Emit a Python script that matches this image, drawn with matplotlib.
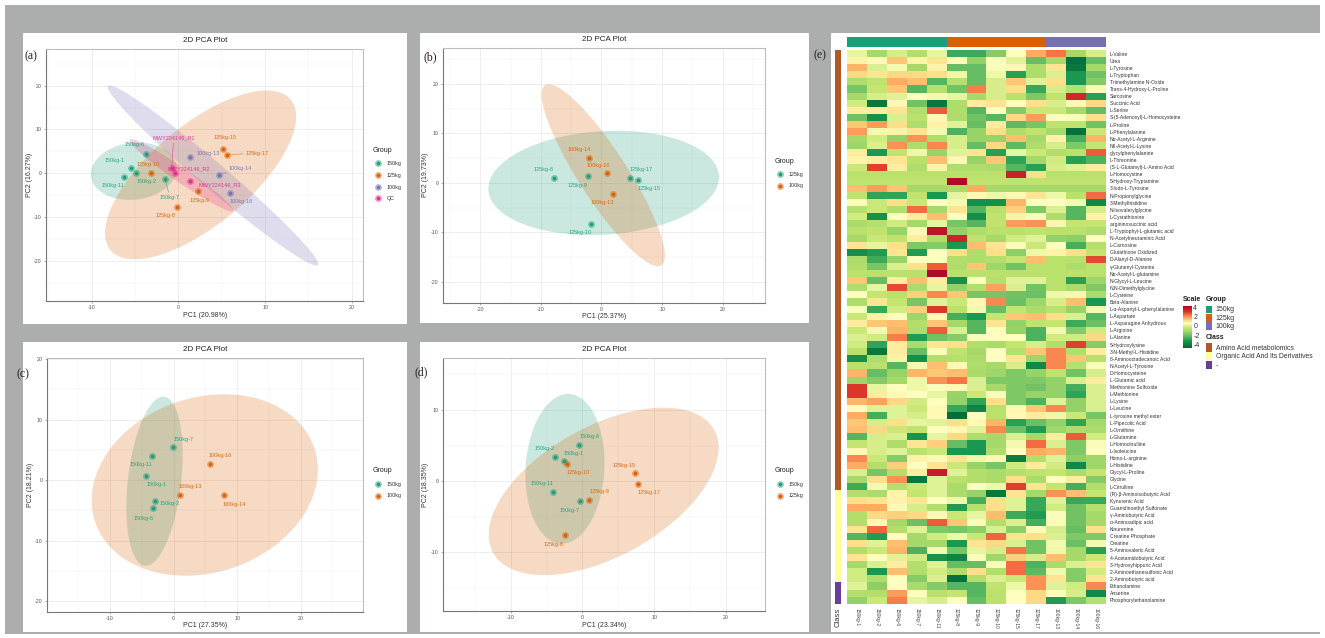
import numpy as np
import matplotlib
matplotlib.use("Agg")
import matplotlib.pyplot as plt
from matplotlib.colors import LinearSegmentedColormap, ListedColormap
from matplotlib.patches import Rectangle

plt.rcParams['font.family'] = ['Liberation Sans', 'DejaVu Sans']

W, H = 1325, 638
C150, C125, C100, CQC = '#1B9E77', '#D95F02', '#7570B3', '#E7298A'

# ---------- panel (a) ----------
a_150_names = ['150kg-1', '150kg-11', '150kg-2', '150kg-6', '150kg-7']
a_150_pc1 = [-5.5, -6.27, -4.92, -3.77, -1.54]
a_150_pc2 = [1.3, -0.84, 0.0, 4.5, -1.37]
a_125_names = ['125kg-10', '125kg-9', '125kg-8', '125kg-15', '125kg-17']
a_125_pc1 = [-3.15, 2.23, -0.19, 5.12, 5.62]
a_125_pc2 = [0.15, -4.04, -7.77, 5.56, 4.27]
a_100_names = ['100kg-13', '100kg-14', '100kg-16']
a_100_pc1 = [1.31, 4.65, 6.0]
a_100_pc2 = [3.66, -0.3, -4.57]
a_qc_names = ['MWY224146_R1', 'MWY224146_R2', 'MWY224146_R3']
a_qc_pc1 = [-0.77, -0.35, 1.38]
a_qc_pc2 = [1.3, 0.0, -1.83]
# label offsets (screen units, zoomed pixels / 3) and leader flags
a_150_off = [(-47, -20), (-34, 26), (33, 25), (-34, -26), (15, 55)]
a_125_off = [(-10, -24), (5, 28), (-32, 26), (8, -33), (91, -4)]
a_100_off = [(57, -12), (66, -17), (33, 26)]
a_qc_off = [(6, -89), (39, -13), (88, 10)]
a_150_lead = [0, 0, 0, 0, 1]
a_125_lead = [0, 0, 0, 0, 1]
a_100_lead = [0, 1, 0]
a_qc_lead = [1, 0, 0]
# ellipses: centre x, centre y, half-width, half-height, correlation
a_ell_150 = (-5.15, 0.46, 4.94, 6.55, 0.1)
a_ell_125 = (2.56, -0.38, 11.02, 19.28, 0.69)
a_ell_100 = (4.0, -0.53, 12.15, 20.6, -0.982)
a_ell_qc = (0.35, -0.46, 6.0, 8.27, -0.97)

# ---------- panel (b) ----------
b_125_names = ['125kg-8', '125kg-9', '125kg-17', '125kg-15', '125kg-10']
b_125_pc1 = [-7.88, -2.26, 4.74, 6.06, -1.76]
b_125_pc2 = [1.01, 1.35, 1.01, 0.54, -8.25]
b_100_names = ['100kg-14', '100kg-16', '100kg-13']
b_100_pc1 = [-2.04, 0.99, 1.82]
b_100_pc2 = [5.0, 1.96, -2.3]
b_125_off = [(-32, -24), (-32, 27), (32, -25), (32, 26), (-32, 26)]
b_100_off = [(-30, -25), (-27, -22), (-32, 26)]
b_ell_125 = (0.36, 0.0, 19.04, 10.55, 0.11)
b_ell_100 = (0.3, 1.56, 10.17, 18.4, -0.885)

# ---------- panel (c) ----------
c_150_names = ['150kg-7', '150kg-11', '150kg-1', '150kg-2', '150kg-6']
c_150_pc1 = [-0.1, -3.46, -4.3, -2.99, -3.25]
c_150_pc2 = [5.41, 4.03, 0.72, -3.37, -4.53]
c_100_names = ['100kg-16', '100kg-13', '100kg-14']
c_100_pc1 = [5.66, 1.0, 7.91]
c_100_pc2 = [2.71, -2.43, -2.49]
c_150_off = [(31, -24), (-32, 26), (32, 26), (46, 8), (-28, 34)]
c_100_off = [(32, -25), (32, -25), (32, 27)]
c_ell_150 = (-3.01, -0.17, 4.43, 13.98, 0.31)
c_ell_100 = (4.9, -0.8, 17.79, 15.0, 0.17)

# ---------- panel (d) ----------
d_150_names = ['150kg-6', '150kg-2', '150kg-1', '150kg-11', '150kg-7']
d_150_pc1 = [-0.51, -3.77, -2.6, -4.14, -0.33]
d_150_pc2 = [5.14, 3.46, 2.9, -1.45, -2.85]
d_125_names = ['125kg-10', '125kg-15', '125kg-17', '125kg-9', '125kg-8']
d_125_pc1 = [-2.19, 7.3, 7.77, 0.84, -2.47]
d_125_pc2 = [2.43, 1.12, -0.42, -2.62, -7.57]
d_150_off = [(32, -24), (-33, -25), (29, -22), (-31, -25), (-32, 26)]
d_125_off = [(33, 25), (-31, -24), (32, 26), (32, -25), (-32, 27)]
d_ell_150 = (-2.44, 1.73, 5.51, 10.51, 0.08)
d_ell_125 = (2.95, -1.43, 16.02, 11.75, 0.52)

# ---------- heatmap ----------
sample_names = ['150kg-1', '150kg-2', '150kg-6', '150kg-7', '150kg-11', '125kg-8', '125kg-9',
                '125kg-10', '125kg-15', '125kg-17', '100kg-13', '100kg-14', '100kg-16']
sample_group = [0] * 5 + [1] * 5 + [2] * 3
metabolites = [
    'L-Valine', 'Urea', 'L-Tyrosine', 'L-Tryptophan', 'Trimethylamine N-Oxide',
    'Trans-4-Hydroxy-L-Proline', 'Sarcosine', 'Succinic Acid', 'L-Serine',
    'S-(5-Adenosyl)-L-Homocysteine', 'L-Proline', 'L-Phenylalanine', 'Nα-Acetyl-L-Arginine',
    'N6-Acetyl-L-Lysine', 'glycylphenylalanine', 'L-Threonine', '(S-L-Glutamyl)-L-Amino Acid',
    'L-Homocystine', '5-Hydroxy-Tryptamine', '3-Iodo-L-Tyrosine', 'N-Propionylglycine',
    '3-Methylhistidine', 'N-Isovalerylglycine', 'L-Cystathionine', 'argininosuccinic acid',
    'L-Tryptophyl-L-glutamic acid', 'N-Acetylneuraminic Acid', 'L-Carnosine',
    'Glutathione Oxidized', 'D-Alanyl-D-Alanine', 'γ-Glutamyl-Cysteine', 'Nα-Acetyl-L-glutamine',
    'N-Glycyl-L-Leucine', 'N,N-Dimethylglycine', 'L-Cysteine', 'Beta-Alanine',
    'L-α-Aspartyl-L-phenylalanine', 'L-Aspartate', 'L-Asparagine Anhydrous', 'L-Arginine',
    'L-Alanine', '5-Hydroxylysine', '3-N-Methyl-L-Histidine', '8-Aminooctadecanoic Acid',
    'N-Acetyl-L-Tyrosine', 'D-Homocysteine', 'L-Glutamic acid', 'Methionine Sulfoxide',
    'L-Methionine', 'L-Lysine', 'L-Leucine', 'L-tyrosine methyl ester', 'L-Pipecolic Acid',
    'L-Ornithine', 'L-Glutamine', 'L-Homocitrulline', 'L-Isoleucine', 'Homo-L-arginine',
    'L-Histidine', 'Glycyl-L-Proline', 'Glycine', 'L-Citrulline', '(R)-β-Aminoisobutyric Acid',
    'Kynurenic Acid', 'Guanidinoethyl Sulfonate', 'γ-Aminobutyric Acid', 'α-Aminoadipic acid',
    'Kinurenine', 'Creatine Phosphate', 'Creatine', '5-Aminovaleric Acid',
    '4-Acetamidobutyric Acid', '3-Hydroxyhippuric Acid', '2-Aminoethanesulfonic Acid',
    '2-Aminobutyric acid', 'Ethanolamine', 'Anserine', 'Phosphorylethanolamine']
metabolite_class = [0] * 62 + [1] * 13 + [2] * 3
heat_values = [
    [0.3, -1, 0, -0.7, 0.3, -2.5, -2.5, -1.5, 0.7, 1.8, 2.4, -1, 0],
    [0.9, 0.8, 1.5, 0.9, 1.1, 0.6, -1.3, 0.6, 0.2, -2, -1, -4.2, -2],
    [1.7, 0.1, 0.5, -1, 0.9, -2, -2, 0.6, 0.8, -0.8, 1.1, -4, -1],
    [1.3, 1.1, 1.3, 1.3, 1.2, 0.4, -2, 0.4, -2.8, -0.8, 0.1, -3, -1.8],
    [-0.8, -0.4, 1.8, 1.6, -2.2, -0.6, -2, 0, 1.5, 0.2, 1.2, -3, -1.5],
    [-1.7, -0.3, 1.5, -2.2, -0.6, -1.8, 2.3, 0, 1.2, -2.6, 0, -0.6, 0.8],
    [-1, 0, 0.2, 0.7, 0.5, 0.3, -1, 0, -0.5, -1.6, -0.4, 3.4, -2.8],
    [-0.1, -4, 0.8, -1.8, -4, -0.8, 1, 1.1, 0.7, 1.2, 0, 0.8, 1.3],
    [1, 1, 1.1, -0.7, 2.7, -0.8, -2.2, 0.7, -1.5, -0.2, -0.2, -1, -2],
    [-1.8, -3.2, 0.1, -0.5, 0.8, -0.8, -1.8, -2.2, 1.3, 2, 0.7, 0.6, 1.2],
    [1.5, 2, 1.2, -0.8, 0.9, 0.2, -2, 1, -2.1, -1.7, -0.4, -0.4, -1.8],
    [2, 0.5, 0.9, 1.1, 0.5, -2.3, -1.2, 1.2, -0.8, -0.4, -1, -4.2, -0.2],
    [-1, -0.1, -1.3, 2.1, -0.8, 0, -1.2, -1.2, 1.6, -1, 0.9, -2.4, 1.7],
    [-1.1, 0.1, 2.1, -0.8, 2.2, 0, -2, 1.3, -2.1, -0.8, 0, -1.6, -0.3],
    [1, -3, -0.4, 0.4, -1.2, 0.2, 1.1, -2.8, 0.3, -0.2, -0.7, -0.5, 2.7],
    [0.9, 1, 1.1, -0.5, 1.6, 0.8, -1.2, 1.5, -2.7, -1, -0.1, -2.8, -2.3],
    [-0.2, 3, 1, -0.8, 0.9, -0.8, -0.8, -0.9, -2.2, -2.8, 0, 0.2, 1],
    [-0.5, -0.5, -0.5, -0.5, -0.5, -0.5, -0.5, -0.5, 3.6, 1.2, -0.5, -0.5, -0.5],
    [-0.4, -0.4, -0.4, -0.4, -0.4, 4.2, -0.4, -0.4, -0.4, -0.4, -0.4, -0.4, -0.4],
    [1.6, 2, 1.5, -1, -1, -0.9, 1.8, -1, -1, -1, -1, -1, -1],
    [-0.4, -2.7, -2.7, -0.4, -3, 0.3, 0.8, 0.4, 0.8, 1.1, 0.4, -0.5, 2.5],
    [0.6, -0.2, 1.2, -0.2, 0.7, 0.5, -3.2, -3.2, 1.7, 0.7, 0.7, 0.5, -3.5],
    [-0.6, -0.2, -0.7, 2.5, -1, 1.1, -2.2, -0.5, 1.4, -1.6, 0.1, -2.2, 0],
    [-0.1, -3.2, 0.7, 1, 1.6, 0.7, -3.3, -0.4, 0.4, 0.6, -0.8, -2.2, 0.9],
    [-0.9, -0.6, -0.1, -1, 0.3, -1.7, -2.2, -0.4, 2, 2.1, 0.5, -0.3, -0.3],
    [-0.5, -0.4, -1.2, 0.8, 3.9, -1.3, -0.8, -0.5, -0.5, -0.4, -0.5, -0.5, -0.8],
    [-1, -0.2, -0.4, 1, -0.8, 3.5, -0.4, -1, -0.1, 0.2, -1.3, -1.4, 0.7],
    [1.1, 0.3, 1.2, -1.6, -1.5, -3, 1.6, 1.1, 0.6, -0.2, 0.7, -2.4, -0.6],
    [-3.3, -2.9, 1.1, -2.9, 0.7, 1.2, -0.8, 1.2, -1.4, 0.4, 0.9, 1.2, -0.3],
    [-0.9, -2.5, -1.2, 0.7, 0.7, -0.7, -0.8, -0.7, -0.3, 1.6, -0.5, -0.5, 2.9],
    [-0.7, -1.7, 0.1, 1.2, 2.7, -0.8, 1.5, -1.1, -1.8, -0.5, -0.5, -0.8, -0.5],
    [-0.5, -0.5, -0.5, -0.5, 4.2, -0.5, -0.5, -0.5, -0.5, -0.5, -0.5, -0.5, -0.5],
    [1.5, -2, 1, 1.6, 1, -3.2, 0.7, -0.6, 0.2, 0.2, -0.5, -2.8, -1.1],
    [-0.8, 0.3, 2.9, -0.9, 0.3, -1.3, -0.7, 1.9, 0.1, -1.8, -0.5, -0.9, -1.6],
    [0.7, -0.3, -0.5, 1.4, 2.2, 1.5, -1.7, -1.7, -1.8, -1.9, 0.4, 0.5, -0.9],
    [-0.8, 1.1, -0.3, -1.7, 0.2, -0.2, 0.8, 2.2, -1.9, -1.1, 0, 1.6, -3],
    [0.6, -2.6, -0.1, 1.4, 3.1, -0.5, 0.5, -2, -0.3, -0.9, -0.5, -1.2, 0.5],
    [-0.2, 0.9, 0.7, -1.1, 0.8, -2.4, -3, -0.3, 1.5, 1.6, 1.2, 0.1, -2.2],
    [1, 1.5, 1.6, -0.7, 1.5, -1, -2.2, 1.1, -1.3, -0.4, -0.3, -2.5, -1.9],
    [-0.2, 0.5, 1.7, -0.8, 2.7, 0.1, -2.2, 0.7, -1.2, -2.3, 0.5, -1.5, -0.1],
    [0.1, -0.1, 2.3, -2.9, -1.8, -1.5, 0.6, 0.7, 0.7, -2.3, -0.1, -0.1, 1.3],
    [-0.1, -2.7, 1, -0.9, 1.1, 1.2, -0.7, -0.9, -0.3, 0, -0.7, 3, -1.5],
    [-0.5, -4, 1, -2, 0.6, -0.4, -1, 0.7, -0.6, 1.5, 2.2, -0.7, 1],
    [-3.3, -0.8, 0.9, -3.3, -0.7, -0.6, -0.9, 0.7, 1.1, -1.1, 2.2, 1.5, -0.6],
    [-0.5, -0.5, -2.2, 0.5, 1.6, 0.8, -0.8, -1, 0, -3.5, 2.2, -0.6, 0.6],
    [1.7, -2, -1.2, 1.7, 1.5, 1.6, -0.9, -1.1, -1.6, -1.2, -0.4, -1.8, 0],
    [-1.1, -1.5, -1, 0.4, 2.1, 2.4, 0.1, -1.6, -1.6, -1.6, -1.3, 0.1, 1],
    [3.1, 0.3, 0.7, 0.4, 0.6, 0.8, 0.1, -1, -1.6, -1.8, -1.3, -2.4, 0.1],
    [3.1, 1, 0.8, 0.7, 0.3, -1.2, -0.2, 0.6, -1.6, -1.2, -1.3, -2.7, 0.1],
    [1.7, 1.9, 1.3, -0.1, 0.7, -1.3, -2.7, 1.2, -1.6, -2.3, 0.2, -1.3, 0.1],
    [0.6, 0.2, 0.2, -0.2, 0.8, -2.6, -3.6, -0.5, 0.8, 1.5, 2.2, -1.3, 0.1],
    [1.8, -2.4, 0.2, 0, 0.8, -4.3, 0.7, -0.5, 0.8, 1, 0.4, -0.2, -1.7],
    [1.5, 0, 1.2, 0.3, 0.2, 1.2, 0.8, 1.7, -2.8, -1.9, -1.3, -2.7, -1],
    [1.6, 1.3, -0.2, -0.4, 0.7, 0.8, 0.2, 2.2, -1.9, -2.9, -1.1, -0.8, -0.9],
    [-2.2, 0, 0.1, -3.1, 0.3, 1.3, -0.8, -1, 0.1, -1, 1, 2.7, -0.1],
    [-0.3, 0, -0.8, 1.1, 1.4, -2, -3, -1, 0.5, 2.5, 0.1, -1.6, 0.6],
    [0.8, 0, 0.2, -0.5, -0.2, -3, -3, -0.8, 0.7, 1.8, 1.7, -1.6, 0.7],
    [2.2, -0.2, -1.5, 0.9, 0.8, 1.1, 0.4, 0.8, -3.8, -0.7, 0.2, -1.4, -1.1],
    [1.8, -0.7, 1.4, 0.7, 1.1, -0.2, -1.2, -1.7, -0.1, 1, -0.1, -3.5, -1.1],
    [0.1, -1.7, -0.7, 1, 3.7, 0.2, -0.7, -0.9, -0.6, -0.4, -0.3, -0.9, -0.3],
    [-1, 1.2, 2.1, -4, 0.2, -0.5, -0.7, -0.9, 1.2, -0.9, 0.7, 1, -1.5],
    [-2.5, 0.5, -0.6, -0.2, 0.2, -0.9, 0.7, 0.4, 3, 1.1, -0.3, -2.4, -0.7],
    [-0.7, -0.9, 0.9, -0.3, 0.2, -0.9, -1.2, -4, 1.1, -1, 2.1, 1.6, -0.3],
    [1.2, 1.1, 0.9, 1.1, 0.7, 0.4, -2.4, 1.2, 0.2, -2.6, 0.2, -2.6, -2.6],
    [1.8, 1.8, 0.8, 0, -0.7, -2.9, -0.6, 1.2, 0.2, -2.6, -0.1, -1.8, -0.6],
    [-0.7, 1.3, 1.4, 1.3, 0.8, -0.2, 0.3, 1.6, -2.5, -2.9, 0.6, -1.8, -1],
    [-0.7, 0.8, -1, -1.9, 2.7, 1.5, 0.6, -0.7, 0.1, -2.4, 0.6, -1.8, -1],
    [1.1, 2.6, -0.7, 0.2, -1.6, -1.7, -1.4, 0.1, -1.4, 0.6, 0, -2, 1.2],
    [-2.2, -2.9, 0.7, -1, -0.1, 0.4, -0.2, 2.6, 1.1, 1.2, 0.1, -1.6, -1.6],
    [1.2, 0.2, 1.6, -1, -1, -3, 1.1, 1.3, 0.1, -1.8, 0.5, -1.9, 0.5],
    [-0.7, -0.2, 1.7, -2.3, 0.5, -1.7, 0.3, 0, 2.4, -1.8, 0.4, -1, -2.8],
    [1.1, 0.7, 0.2, -0.1, -3.2, -3.6, 0.6, -1.1, 1.4, 0, 1.6, -1, -0.2],
    [-1, 0.1, 1, -0.7, 0.2, -2, -2, 0.6, 2.5, -2.3, -0.9, 0.1, 1.1],
    [-0.1, -3, 1.6, -0.7, -0.1, -0.8, 1.2, -0.7, 2.5, -2.1, 0.5, -1.5, -0.1],
    [-0.1, -0.8, 0.7, -1.5, 0.1, -4.2, -0.7, 0.1, -0.2, 2.1, 1.1, -1.5, 1.1],
    [0.2, -1.4, 0.7, -0.9, -1.5, -2.2, -2.2, -0.4, 0.4, 2.1, 0.2, -0.1, 2.2],
    [-0.7, -0.7, 2, 0.7, -0.5, -0.3, -2.2, -0.5, 0.7, 1.3, 0.6, 0, -3.5],
    [-1.3, -0.2, 2.3, 0.3, 0, 0.7, -2, -0.5, 0.7, 1.3, -2.9, -1.6, -0.6],
]
scale_ticks = [4, 2, 0, -2, -4]
class_names = ['Amino Acid metabolomics', 'Organic Acid And Its Derivatives', '-']
group_names = ['150kg', '125kg', '100kg']
group_colors = [C150, C125, C100]
class_colors = ['#B15928', '#FFFF99', '#6A3D9A']

VMIN, VMAX = -4.5, 4.5
nodes = [(-4.5, '#006837'), (-3, '#1a9850'), (-2, '#66bd63'), (-1, '#a6d96a'), (-0.3, '#c4e56f'),
         (0.3, '#e6f5a0'), (0.7, '#ffffbf'), (1.2, '#fee08b'), (1.8, '#fdae61'), (2.5, '#f46d43'),
         (3.2, '#d73027'), (4.5, '#a50026')]
heat_cmap = LinearSegmentedColormap.from_list(
    'heat', [((v - VMIN) / (VMAX - VMIN), c) for v, c in nodes])

fig = plt.figure(figsize=(W / 100, H / 100), dpi=100, facecolor='white')


def axes_px(x0, y0, x1, y1, **kw):
    return fig.add_axes([x0 / W, 1 - y1 / H, (x1 - x0) / W, (y1 - y0) / H], **kw)


bg = axes_px(0, 0, W, H)
bg.set_xlim(0, W)
bg.set_ylim(H, 0)
bg.axis('off')
bg.set_zorder(0)


def rect(x0, y0, x1, y1, color, **kw):
    bg.add_patch(Rectangle((x0, y0), x1 - x0, y1 - y0, facecolor=color, edgecolor='none', **kw))


rect(5, 5, 1320, 634, '#ABAEAC')
for box in [(23, 33, 407, 324), (420, 33, 809, 323), (23, 342, 407, 632),
            (420, 342, 809, 632), (831, 33, 1320, 632)]:
    rect(*box, 'white')


def txt(x, y, s, **kw):
    kw.setdefault('ha', 'center')
    kw.setdefault('va', 'center')
    bg.text(x, y, s, **kw)


def ellipse(ax, par, color):
    cx, cy, hx, hy, rho = par
    t = np.linspace(0, 2 * np.pi, 240)
    phi = np.arccos(rho)
    ax.fill(cx + hx * np.cos(t), cy + hy * np.cos(t - phi), color=color, alpha=0.23, lw=0, zorder=2)


def points(ax, xs, ys, names, offs, color, lead=None):
    ax.scatter(xs, ys, s=24, color=color, alpha=0.5, lw=0, zorder=4)
    ax.scatter(xs, ys, s=6, color=color, lw=0, zorder=5)
    lead = lead or [0] * len(xs)
    for x, y, n, (dx, dy), l in zip(xs, ys, names, offs, lead):
        ax.annotate(n, (x, y), xytext=(dx / 3 * 0.72, -dy / 3 * 0.72), textcoords='offset points',
                    fontsize=4, color=color, alpha=0.9, ha='center', va='center', zorder=6,
                    arrowprops=dict(arrowstyle='-', color=color, lw=0.4, alpha=0.8,
                                    shrinkA=0, shrinkB=1) if l else None)


def pca_panel(box, xlim, ylim, xt, yt, xlabel, ylabel, title_xy, xl_xy, yl_xy, ells, sets):
    ax = axes_px(*box)
    ax.set_zorder(1)
    ax.patch.set_alpha(0)
    ax.set_xlim(*xlim)
    ax.set_ylim(*ylim)
    ax.set_xticks(xt)
    ax.set_yticks(yt)
    ax.set_xticks(np.arange(xt[0] - 5, xt[-1] + 6, 10), minor=True)
    ax.set_yticks(np.arange(yt[0] - 5, yt[-1] + 6, 10), minor=True)
    ax.set_xticklabels([str(v) for v in xt])
    ax.set_yticklabels([str(v) for v in yt])
    ax.set_xlim(*xlim)
    ax.set_ylim(*ylim)
    ax.grid(which='major', color='#E8E8E8', lw=0.5)
    ax.grid(which='minor', color='#F1F1F1', lw=0.35)
    ax.set_axisbelow(True)
    ax.tick_params(which='major', labelsize=3.8, labelcolor='#555555', color='#777777', length=1.5,
                   width=0.4, pad=1.5)
    ax.tick_params(which='minor', length=0)
    for name, sp in ax.spines.items():
        sp.set_color('#777777' if name in ('left', 'bottom') else '#BDBDBD')
        sp.set_linewidth(0.8)
    for par, color in ells:
        ellipse(ax, par, color)
    for s in sets:
        points(ax, *s)
    txt(*title_xy, '2D PCA Plot', fontsize=5.8, color='#222222')
    txt(*xl_xy, xlabel, fontsize=5, color='#333333')
    txt(*yl_xy, ylabel, fontsize=5, color='#333333', rotation=90)
    return ax


def pca_legend(x, y_title, ys, labels, colors):
    txt(x, y_title, 'Group', fontsize=5, ha='left', color='#222222')
    for y, lab, c in zip(ys, labels, colors):
        bg.scatter([x + 5.3], [y], s=24, color=c, alpha=0.5, lw=0, zorder=3)
        bg.scatter([x + 5.3], [y], s=6, color=c, lw=0, zorder=4)
        txt(x + 14, y, lab, fontsize=3.9, ha='left', color='#333333')


pca_panel((46, 49, 363, 301), (-15.27, 21.3), (-29.2, 28.4), [-10, 0, 10, 20], [-20, -10, 0, 10, 20],
          'PC1 (20.98%)', 'PC2 (16.27%)', (204.7, 40), (204.7, 315.7), (29.5, 175),
          [(a_ell_150, C150), (a_ell_125, C125), (a_ell_100, C100), (a_ell_qc, CQC)],
          [(a_150_pc1, a_150_pc2, a_150_names, a_150_off, C150, a_150_lead),
           (a_125_pc1, a_125_pc2, a_125_names, a_125_off, C125, a_125_lead),
           (a_100_pc1, a_100_pc2, a_100_names, a_100_off, C100, a_100_lead),
           (a_qc_pc1, a_qc_pc2, a_qc_names, a_qc_off, CQC, a_qc_lead)])
pca_panel((443, 48, 765, 303), (-26.17, 27.0), (-24.3, 27.3), [-20, -10, 0, 10, 20], [-20, -10, 0, 10, 20],
          'PC1 (25.37%)', 'PC2 (19.73%)', (604, 39.5), (604, 316), (425.7, 175),
          [(b_ell_125, C150), (b_ell_100, C125)],
          [(b_125_pc1, b_125_pc2, b_125_names, b_125_off, C150),
           (b_100_pc1, b_100_pc2, b_100_names, b_100_off, C125)])
pca_panel((46.7, 358, 363, 612), (-19.97, 29.8), (-21.8, 20.2), [-20, -10, 0, 10, 20], [-20, -10, 0, 10, 20],
          'PC1 (27.35%)', 'PC2 (18.21%)', (204.7, 349.3), (204.7, 625.7), (30, 485),
          [(c_ell_150, C150), (c_ell_100, C125)],
          [(c_150_pc1, c_150_pc2, c_150_names, c_150_off, C150),
           (c_100_pc1, c_100_pc2, c_100_names, c_100_off, C125)])
pca_panel((443, 358, 765, 611), (-19.44, 25.44), (-18.22, 17.29), [-10, 0, 10, 20], [-10, 0, 10],
          'PC1 (23.34%)', 'PC2 (18.35%)', (604, 349.3), (604, 625.7), (425.7, 485),
          [(d_ell_150, C150), (d_ell_125, C125)],
          [(d_150_pc1, d_150_pc2, d_150_names, d_150_off, C150),
           (d_125_pc1, d_125_pc2, d_125_names, d_125_off, C125)])

pca_legend(372.7, 150, [163.3, 175.3, 187, 198.3], ['150kg', '125kg', '100kg', 'QC'], [C150, C125, C100, CQC])
pca_legend(775, 161.7, [174.3, 186], ['125kg', '100kg'], [C150, C125])
pca_legend(373, 471, [484.3, 496], ['150kg', '100kg'], [C150, C125])
pca_legend(775, 471, [484.3, 496], ['150kg', '125kg'], [C150, C125])

serif = ['Liberation Serif', 'DejaVu Serif']
txt(31, 56, '(a)', fontsize=8.5, family=serif, color='#222222')
txt(430, 57.7, '(b)', fontsize=8.5, family=serif, color='#222222')
txt(22.7, 374, '(c)', fontsize=8.5, family=serif, color='#222222')
txt(420.7, 372.7, '(d)', fontsize=8.5, family=serif, color='#222222')
txt(820, 55.7, '(e)', fontsize=8.5, family=serif, color='#222222')

# heatmap body
hm = axes_px(847, 50, 1106, 603.7)
hm.set_zorder(1)
M = np.array(heat_values)
hm.pcolormesh(np.arange(M.shape[1] + 1), np.arange(M.shape[0] + 1), M, cmap=heat_cmap, vmin=VMIN, vmax=VMAX)
hm.set_ylim(M.shape[0], 0)
hm.set_xlim(0, M.shape[1])
hm.set_yticks(np.arange(M.shape[0]) + 0.5)
hm.set_yticklabels(metabolites)
hm.yaxis.tick_right()
hm.set_xticks(np.arange(M.shape[1]) + 0.5)
hm.set_xticklabels(sample_names, rotation=270, ha='center', va='top')
hm.tick_params(axis='y', length=0, pad=2.9, labelsize=3.6, labelcolor='#333333')
hm.tick_params(axis='x', length=0, pad=3, labelsize=3.6, labelcolor='#444444')
for sp in hm.spines.values():
    sp.set_visible(False)

# top annotation (sample groups)
top = axes_px(847, 36.7, 1106, 47.3)
top.set_zorder(1)
top.pcolormesh(np.arange(14), [0, 1], np.array([sample_group]), cmap=ListedColormap(group_colors),
               vmin=-0.5, vmax=2.5)
top.axis('off')

# left annotation (metabolite class)
left = axes_px(834.7, 50, 840.7, 603.7)
left.set_zorder(1)
left.pcolormesh([0, 1], np.arange(79), np.array(metabolite_class)[:, None],
                cmap=ListedColormap(class_colors), vmin=-0.5, vmax=2.5)
left.set_ylim(78, 0)
left.axis('off')
txt(838, 617, 'Class', fontsize=5.5, rotation=90, color='#333333')

# colour scale
cb = axes_px(1182.7, 306, 1191.3, 348.3)
cb.set_zorder(1)
grad = np.linspace(VMAX, VMIN, 128)[:, None]
cb.imshow(grad, cmap=heat_cmap, vmin=VMIN, vmax=VMAX, aspect='auto', extent=(0, 1, -4.65, 4.5))
cb.axis('off')
txt(1182.7, 299.7, 'Scale', fontsize=5, fontweight='bold', ha='left', color='#222222')
for v, y in zip(scale_ticks, [308.3, 317.7, 326.3, 336, 345.3]):
    txt(1193.3, y, str(v), fontsize=5, ha='left', color='#333333')

txt(1205.3, 299.7, 'Group', fontsize=5, fontweight='bold', ha='left', color='#222222')
for (y0, y1, ym), lab, c in zip([(306, 313.3, 309.7), (314, 321.7, 318), (322.3, 330, 326.7)],
                                group_names, group_colors):
    rect(1205.7, y0, 1212.3, y1, c)
    txt(1215.7, ym, lab, fontsize=5, ha='left', color='#333333')
txt(1205.3, 337.7, 'Class', fontsize=5, fontweight='bold', ha='left', color='#222222')
for (y0, y1, ym), lab, c in zip([(343.3, 351.7, 348.3), (352.3, 360.3, 357), (361, 369, 365.7)],
                                class_names, class_colors):
    rect(1205.7, y0, 1212.3, y1, c)
    txt(1215.7, ym, lab, fontsize=4.9, ha='left', color='#333333')

fig.savefig('out.png', dpi=100, facecolor='white')
